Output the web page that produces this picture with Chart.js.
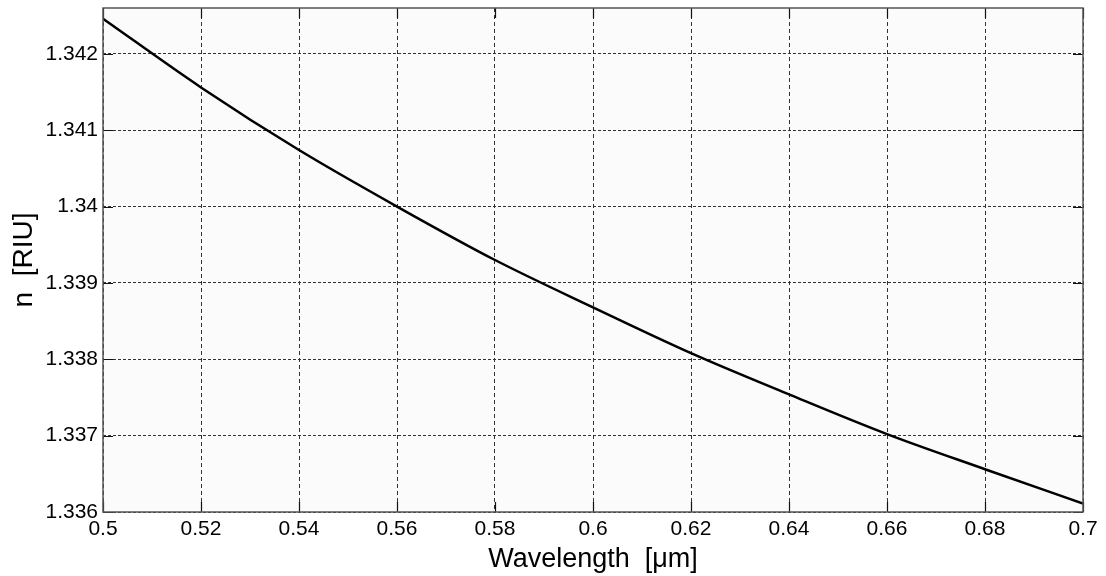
<!DOCTYPE html>
<html>
<head>
<meta charset="utf-8">
<title>n vs wavelength</title>
<script src="https://cdn.jsdelivr.net/npm/chart.js@4.4.1/dist/chart.umd.min.js"></script>
<style>
    html, body { margin: 0; padding: 0; background: #ffffff; }
    #wrap { width: 1106px; height: 576px; }
</style>
</head>
<body>
<div id="wrap"><canvas id="nChart" width="1106" height="576"></canvas></div>
<script>
// refractive index of water over the visible range
const wavelength = [0.50, 0.52, 0.54, 0.56, 0.58, 0.60, 0.62, 0.64, 0.66, 0.68, 0.70];
const refractiveIndex = [1.34246, 1.34156, 1.34074, 1.34000, 1.33930, 1.33868, 1.33808, 1.33754, 1.33702, 1.33656, 1.33611];

const xTicks = [0.5, 0.52, 0.54, 0.56, 0.58, 0.6, 0.62, 0.64, 0.66, 0.68, 0.7];
const xTickLabels = ['0.5', '0.52', '0.54', '0.56', '0.58', '0.6', '0.62', '0.64', '0.66', '0.68', '0.7'];
const yTicks = [1.336, 1.337, 1.338, 1.339, 1.340, 1.341, 1.342];
const yTickLabels = ['1.336', '1.337', '1.338', '1.339', '1.34', '1.341', '1.342'];

const FONT = "'Liberation Sans', Arial, sans-serif";

// plot box: light fill, dark frame and short inward tick marks on all sides
const boxPlugin = {
    id: 'box',
    beforeDraw(chart) {
        const { ctx, chartArea: a } = chart;
        ctx.save();
        ctx.fillStyle = '#fbfbfb';
        ctx.fillRect(a.left, a.top, a.right - a.left, a.bottom - a.top);
        ctx.restore();
    },
    afterDraw(chart) {
        const { ctx, chartArea: a, scales } = chart;
        const len = 10;
        ctx.save();
        ctx.strokeStyle = '#111';
        ctx.lineWidth = 1.2;
        ctx.beginPath();
        xTicks.forEach(v => {
            const px = Math.round(scales.x.getPixelForValue(v)) + 0.5;
            ctx.moveTo(px, a.bottom); ctx.lineTo(px, a.bottom - len);
            ctx.moveTo(px, a.top); ctx.lineTo(px, a.top + len);
        });
        yTicks.forEach(v => {
            const py = Math.round(scales.y.getPixelForValue(v)) + 0.5;
            ctx.moveTo(a.left, py); ctx.lineTo(a.left + len, py);
            ctx.moveTo(a.right, py); ctx.lineTo(a.right - len, py);
        });
        ctx.stroke();
        ctx.strokeStyle = '#555';
        ctx.lineWidth = 1.5;
        ctx.strokeRect(a.left, a.top, a.right - a.left, a.bottom - a.top);
        ctx.restore();
    }
};

new Chart(document.getElementById('nChart'), {
    type: 'line',
    data: {
        datasets: [{
            data: wavelength.map((w, i) => ({ x: w, y: refractiveIndex[i] })),
            borderColor: '#000000',
            borderWidth: 2.5,
            pointRadius: 0,
            fill: false,
            cubicInterpolationMode: 'monotone'
        }]
    },
    options: {
        responsive: false,
        animation: false,
        layout: { padding: { left: 0, right: 23, top: 8, bottom: 0 } },
        plugins: {
            legend: { display: false },
            tooltip: { enabled: false }
        },
        scales: {
            x: {
                type: 'linear',
                min: 0.5,
                max: 0.7,
                afterBuildTicks: scale => { scale.ticks = xTicks.map(v => ({ value: v })); },
                afterFit: scale => {
                    scale.height = 64;
                    scale.paddingLeft = 0;
                    scale.paddingRight = 0;
                },
                ticks: {
                    color: '#000',
                    font: { family: FONT, size: 21 },
                    padding: 5,
                    maxRotation: 0,
                    autoSkip: false,
                    callback: (v, i) => xTickLabels[i]
                },
                grid: { color: '#333', lineWidth: 1, drawTicks: false },
                border: { display: false, dash: [4, 3] },
                title: {
                    display: true,
                    text: 'Wavelength  [\u03bcm]',
                    color: '#000',
                    font: { family: FONT, size: 27 },
                    padding: { top: 4, bottom: 0 }
                }
            },
            y: {
                type: 'linear',
                min: 1.336,
                max: 1.3426,
                afterBuildTicks: scale => { scale.ticks = yTicks.map(v => ({ value: v })); },
                afterFit: scale => {
                    scale.width = 103;
                    scale.paddingTop = 0;
                    scale.paddingBottom = 0;
                },
                ticks: {
                    color: '#000',
                    font: { family: FONT, size: 21 },
                    padding: 5,
                    autoSkip: false,
                    callback: (v, i) => yTickLabels[i]
                },
                grid: { color: '#333', lineWidth: 1, drawTicks: false },
                border: { display: false, dash: [3, 2] },
                title: {
                    display: true,
                    text: 'n  [RIU]',
                    color: '#000',
                    font: { family: FONT, size: 28 },
                    padding: { top: 7, bottom: 0 }
                }
            }
        }
    },
    plugins: [boxPlugin]
});
</script>
</body>
</html>
